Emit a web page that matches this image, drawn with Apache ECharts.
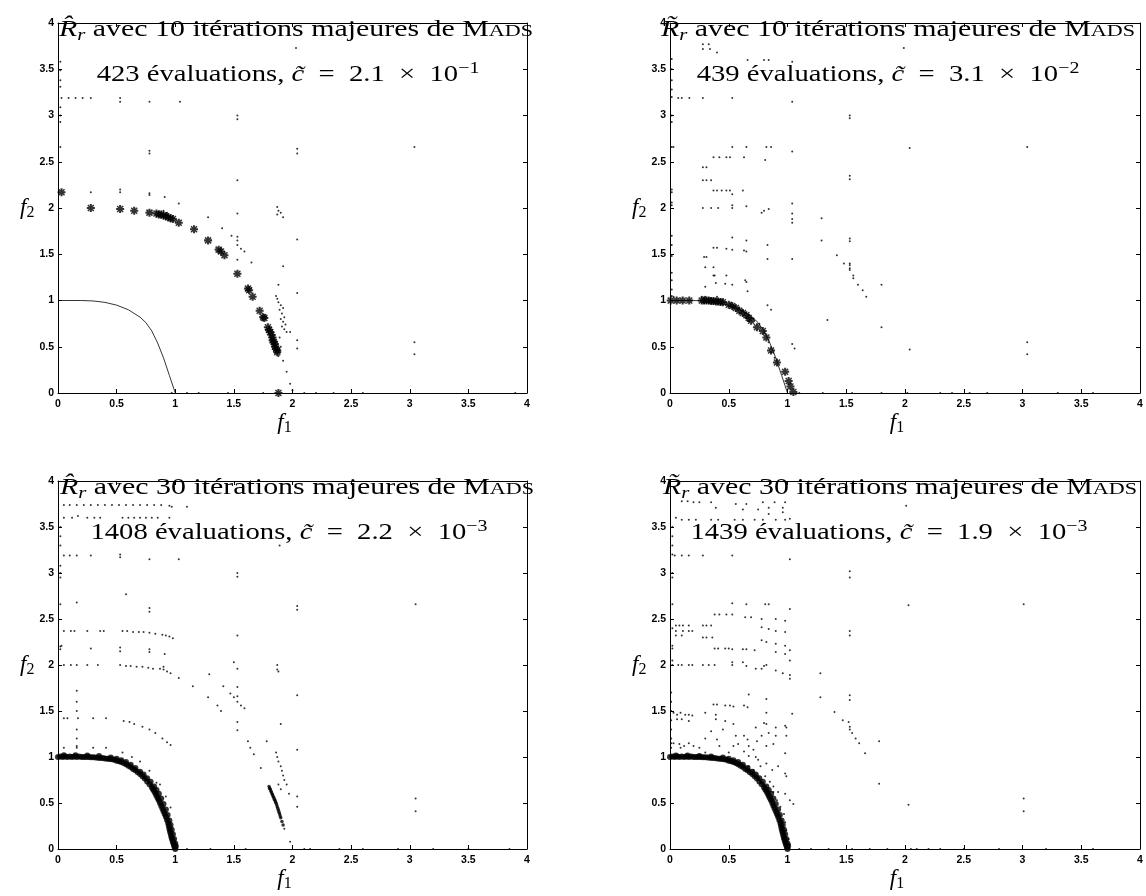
<!DOCTYPE html>
<html>
<head>
<meta charset="utf-8">
<script src="https://cdn.jsdelivr.net/npm/echarts@6/dist/echarts.min.js"></script>
<style>html,body{margin:0;padding:0;background:#fff}#c{width:1146px;height:896px}</style>
</head>
<body>
<div id="c"></div>
<script>
// ---------- tick labels ----------
var X_TICKS = [0, 0.5, 1, 1.5, 2, 2.5, 3, 3.5, 4];
var Y_TICKS = [0, 0.5, 1, 1.5, 2, 2.5, 3, 3.5, 4];

// ---------- titles ----------
var TITLE_ITER = [10, 10, 30, 30];
var TITLE_HAT = ['\u0302', '\u0303', '\u0302', '\u0303'];
var TITLE_EVALS = [423, 439, 1408, 1439];
var TITLE_C_MANT = ['2.1', '3.1', '2.2', '1.9'];
var TITLE_C_EXP = ['\u22121', '\u22122', '\u22123', '\u22123'];

// ---------- true Pareto front ----------
var FRONT = [[0,1],[0.2,1],[0.3,0.995],[0.4,0.98],[0.5,0.95],[0.6,0.9],[0.7,0.82],[0.75,0.76],[0.8,0.67],[0.85,0.54],[0.9,0.38],[0.95,0.19],[1,0]];

// ---------- panel 1 (top-left) ----------
var TL_STARS = [[0.03,2.17],[0.28,2.0],[0.53,1.99],[0.65,1.97],[0.78,1.95],
[0.84,1.94],[0.86,1.93],[0.88,1.93],[0.9,1.92],[0.92,1.91],[0.94,1.9],[0.96,1.89],[0.98,1.88],
[1.03,1.84],[1.16,1.77],[1.28,1.65],[1.37,1.55],[1.39,1.53],[1.42,1.49],[1.53,1.29],[1.62,1.13],[1.63,1.11],[1.66,1.04],[1.72,0.89],[1.75,0.82],[1.76,0.81],
[1.79,0.71],[1.8,0.68],[1.81,0.66],[1.82,0.63],[1.83,0.6],[1.83,0.57],[1.84,0.55],[1.85,0.53],[1.85,0.5],[1.86,0.48],[1.87,0.46],[1.87,0.44],[1.88,0.0]];
var TL_DOTS = [[0.02,3.58],[0.02,3.49],[0.02,3.38],[0.02,3.31],[0.02,3.09],[0.02,3.0],[0.02,2.93],[0.02,2.66],
[0.03,3.19],[0.09,3.19],[0.15,3.19],[0.21,3.19],[0.28,3.19],[0.53,3.19],[0.53,3.15],[0.78,3.15],[1.04,3.15],[1.53,3.0],[1.53,2.96],[2.03,3.73],
[0.78,2.62],[0.78,2.59],[0.28,2.17],[0.53,2.2],[0.53,2.17],[0.78,2.16],[0.78,2.14],[0.91,2.12],[1.03,2.05],
[0.9,1.97],[0.93,1.95],[1.28,1.9],[1.4,1.78],
[1.53,2.3],[1.53,1.94],[1.53,1.69],[1.53,1.65],[1.53,1.6],[1.53,1.44],[1.48,1.7],[1.56,1.56],[1.59,1.53],[1.65,1.41],
[1.87,2.01],[1.88,1.97],[1.9,1.95],[1.92,1.9],[1.87,1.93],[1.92,1.37],[1.88,1.17],
[1.86,1.05],[1.87,1.02],[1.88,0.98],[1.9,0.95],[1.92,0.92],[1.89,0.9],[1.91,0.86],[1.93,0.82],[1.9,0.8],[1.92,0.77],[1.94,0.74],[1.91,0.72],[1.93,0.69],[1.95,0.66],[1.98,0.66],
[1.89,0.6],[1.9,0.5],[1.88,0.4],[1.92,0.35],[1.95,0.23],[1.98,0.1],[2.0,0.03],
[2.04,2.64],[2.04,2.59],[2.04,1.66],[2.04,1.08],[2.04,0.57],[2.04,0.48],
[3.04,2.66],[3.04,0.55],[3.04,0.42],
[0.97,0],[1.1,0],[1.2,0],[1.45,0],[1.75,0],[2.1,0],[2.2,0],[2.35,0],[2.6,0],[3.9,0]];

// ---------- panel 2 (top-right) ----------
var TR_STARS = [[0.006,1.0],[0.057,1.0],[0.108,1.0],[0.164,1.0],
[0.27,1.0],[0.29,1.0],[0.31,1.0],[0.33,1.0],[0.35,0.995],[0.37,0.995],[0.39,0.99],[0.41,0.99],[0.43,0.985],[0.45,0.98],
[0.5,0.955],[0.53,0.94],[0.56,0.92],[0.59,0.89],[0.62,0.865],[0.65,0.84],[0.67,0.81],[0.69,0.78],
[0.74,0.71],[0.79,0.67],[0.82,0.6],[0.86,0.46],[0.91,0.33],[0.98,0.23],[1.01,0.13],[1.025,0.07],[1.05,0.01]];
var TR_DOTS = [[0.03,1.04],[0.27,1.04],[0.3,1.04],[0.4,1.04],[0.47,0.98],[0.54,0.95],[0.62,0.89],[0.71,0.8],[0.76,0.75],[0.8,0.65],[0.84,0.55],[0.86,0.44],[0.89,0.38],
[0.015,3.61],[0.015,3.5],[0.015,3.38],[0.015,3.28],[0.015,3.2],[0.015,3.0],[0.015,2.93],[0.015,2.66],[0.03,2.66],[0.015,2.2],[0.015,2.17],[0.015,2.06],[0.015,2.03],[0.015,1.7],[0.015,1.6],[0.015,1.48],[0.015,1.3],[0.015,1.22],[0.015,1.12],[0.015,1.05],
[0.28,3.77],[0.33,3.77],[0.28,3.72],[0.34,3.72],[0.4,3.68],
[0.66,3.6],[0.8,3.6],[0.84,3.6],[1.04,3.58],
[0.07,3.19],[0.1,3.19],[0.165,3.19],[0.28,3.19],[0.53,3.19],[1.04,3.15],
[1.53,3.0],[1.53,2.97],[1.53,2.35],[1.53,2.31],[1.53,1.67],[1.53,1.64],[1.53,1.4],[1.53,1.38],
[1.99,3.73],[2.04,2.65],[3.04,2.66],[3.04,0.55],[3.04,0.42],[2.04,0.47],
[0.53,2.66],[0.65,2.66],[0.82,2.66],[0.86,2.66],
[0.37,2.55],[0.42,2.55],[0.48,2.55],[0.51,2.55],[0.63,2.55],[0.81,2.52],[1.04,2.61],
[0.28,2.44],[0.31,2.44],[0.28,2.3],[0.31,2.3],[0.35,2.3],
[0.37,2.19],[0.4,2.19],[0.44,2.19],[0.48,2.19],[0.51,2.19],[0.62,2.19],[0.53,2.15],
[0.28,2.0],[0.35,2.0],[0.41,2.0],[0.53,2.0],[0.53,2.03],[0.65,2.02],[0.78,1.95],[0.8,1.97],[0.84,1.99],[1.04,2.05],
[1.04,1.94],[1.04,1.88],[1.04,1.84],[1.29,1.89],[1.29,1.65],[0.53,1.68],[0.65,1.65],
[0.37,1.57],[0.4,1.57],[0.48,1.56],[0.53,1.55],[0.63,1.54],[0.65,1.53],
[0.83,1.6],[0.83,1.45],[1.04,1.45],[0.29,1.47],[0.31,1.47],
[0.3,1.36],[0.37,1.36],[0.37,1.27],[0.38,1.27],[0.48,1.27],[0.64,1.22],[0.65,1.2],
[0.3,1.15],[0.39,1.19],[0.47,1.18],[0.53,1.17],[0.66,1.1],
[1.42,1.49],[1.48,1.4],[1.53,1.35],[1.53,1.33],[1.56,1.27],[1.56,1.24],[1.6,1.17],[1.64,1.11],[1.67,1.04],
[1.8,1.17],[1.8,0.71],[1.34,0.79],[0.83,0.95],[0.86,0.9],[1.04,0.53],[1.06,0.48],
[1.1,0],[1.3,0],[1.55,0],[1.8,0],[2.02,0],[2.3,0],[2.4,0],[2.55,0],[2.7,0],[3.3,0],[3.6,0]];

// ---------- panel 3 (bottom-left) ----------
var BL_BAND = [[0,1.0],[0.02,1.005],[0.04,1.0],[0.06,1.005],[0.08,1.0],[0.1,1.005],[0.12,1.0],[0.14,1.005],[0.16,1.0],[0.18,1.005],[0.2,1.0],[0.22,1.0],[0.24,1.0],[0.26,1.0],[0.28,0.998],[0.3,0.997],[0.32,0.995],[0.34,0.993],[0.36,0.99],[0.38,0.988],[0.4,0.985],[0.42,0.982],[0.44,0.978],
[0.05,1.02],[0.15,1.02],[0.25,1.015],[0.35,1.01],[0.45,0.995],
[0.46,0.975],[0.48,0.97],[0.5,0.96],[0.52,0.955],[0.54,0.945],[0.56,0.935],[0.58,0.92],[0.6,0.905],[0.62,0.89],[0.64,0.87],[0.66,0.855],[0.68,0.835],[0.7,0.815],[0.72,0.79],[0.74,0.765],[0.76,0.735],[0.78,0.705],[0.8,0.67],[0.81,0.65],[0.82,0.63],[0.83,0.605],[0.84,0.58],[0.85,0.555],[0.86,0.53],[0.87,0.5],[0.88,0.47],[0.89,0.44],[0.9,0.41],[0.91,0.38],[0.92,0.35],[0.93,0.315],[0.94,0.28],[0.945,0.25],[0.95,0.22],[0.955,0.195],[0.96,0.17],[0.965,0.145],[0.97,0.12],[0.975,0.1],[0.98,0.08],[0.985,0.06],[0.99,0.04],[0.995,0.02],[1.0,0.0],
[0.5,0.98],[0.54,0.965],[0.58,0.945],[0.62,0.915],[0.66,0.88],[0.7,0.84],[0.73,0.81],[0.76,0.77],[0.79,0.73],[0.82,0.68],[0.84,0.64],[0.86,0.6],[0.88,0.55],[0.9,0.49],[0.92,0.43],[0.935,0.37],[0.95,0.31],[0.96,0.26],[0.97,0.21],[0.98,0.16],[0.99,0.11],[1.0,0.06],[1.005,0.03]];
var BL_RIGHT_BAND = [[1.8,0.68],[1.805,0.66],[1.81,0.65],[1.815,0.63],[1.82,0.62],[1.825,0.6],[1.83,0.59],[1.835,0.57],[1.84,0.56],[1.845,0.54],[1.85,0.53],[1.855,0.51],[1.86,0.5],[1.865,0.48],[1.87,0.46],[1.875,0.44],[1.88,0.42],[1.885,0.4],[1.89,0.38],[1.895,0.36],[1.9,0.34],[1.91,0.3],[1.92,0.26]];
var BL_DOTS = [[0.05,3.74],[0.1,3.74],[0.16,3.74],[0.22,3.74],[0.28,3.74],[0.34,3.74],[0.4,3.74],[0.46,3.74],[0.52,3.74],[0.58,3.74],[0.64,3.74],[0.7,3.74],[0.76,3.74],[0.82,3.74],[0.88,3.74],[0.95,3.73],[0.97,3.72],[1.1,3.72],
[0.05,3.6],[0.12,3.6],[0.17,3.62],[0.25,3.6],[0.31,3.6],[0.36,3.6],[0.55,3.6],[0.6,3.6],[0.65,3.6],[0.7,3.6],[0.75,3.6],[0.8,3.6],[0.85,3.6],[0.95,3.6],
[0.02,3.5],[0.02,3.4],[0.02,3.3],[0.02,3.08],[0.02,3.0],[0.02,2.95],[0.02,2.66],[0.02,2.2],[0.02,2.17],
[0.05,3.19],[0.1,3.19],[0.16,3.19],[0.28,3.19],[0.53,3.2],[0.53,3.17],[0.78,3.15],[1.03,3.15],[1.89,3.3],
[0.58,2.77],[0.16,2.68],[0.78,2.62],[0.78,2.58],[1.53,3.0],[1.53,2.96],[2.04,2.64],[2.04,2.6],[3.05,2.66],
[0.05,2.37],[0.11,2.37],[0.14,2.37],[0.25,2.37],[0.36,2.37],[0.39,2.37],[0.55,2.37],[0.59,2.37],[0.64,2.36],[0.69,2.36],[0.73,2.36],[0.78,2.35],[0.83,2.34],[0.89,2.33],[0.92,2.32],[0.95,2.31],[0.98,2.29],
[0.03,2.21],[0.28,2.18],[0.53,2.19],[0.53,2.15],[0.78,2.17],[0.78,2.14],[0.91,2.12],
[0.05,2.0],[0.11,2.0],[0.16,2.0],[0.25,2.0],[0.34,2.0],[0.53,2.0],[0.58,1.99],[0.62,1.99],[0.67,1.98],[0.72,1.98],[0.77,1.97],[0.81,1.96],[0.87,1.96],[0.9,1.95],[0.93,1.93],[0.96,1.91],[1.03,1.86],[0.9,1.98],
[1.15,1.77],[1.29,1.9],[1.28,1.65],[1.41,1.77],[1.36,1.56],[1.39,1.5],[1.47,1.69],[1.5,1.65],[1.5,2.03],[1.53,2.32],[1.53,1.96],[1.53,1.76],[1.53,1.66],[1.53,1.6],[1.53,1.38],[1.53,1.29],[1.56,1.56],[1.59,1.53],
[0.05,1.42],[0.08,1.42],[0.17,1.42],[0.3,1.42],[0.41,1.42],[0.56,1.39],[0.61,1.38],[0.65,1.36],[0.72,1.33],[0.78,1.3],[0.83,1.26],[0.89,1.2],[0.93,1.16],[0.96,1.13],
[0.16,1.72],[0.16,1.6],[0.16,1.5],[0.16,1.3],[0.16,1.2],[0.16,1.12],
[0.05,1.1],[0.16,1.1],[0.3,1.1],[0.41,1.1],[0.55,1.05],[0.63,1.0],[0.7,0.95],[0.78,0.85],[0.84,0.72],[0.87,0.7],[0.92,0.57],[0.96,0.45],
[1.87,2.0],[1.87,1.95],[1.88,1.93],[1.78,1.17],[1.9,1.36],[2.04,1.67],[2.04,1.08],[2.04,0.57],[2.04,0.46],
[1.62,1.17],[1.64,1.1],[1.67,1.03],[1.73,0.88],[1.98,0.08],[3.05,0.55],[3.05,0.41],[1.93,0.22],
[1.86,1.05],[1.87,1.0],[1.88,0.95],[1.9,0.9],[1.91,0.85],[1.92,0.8],[1.93,0.75],[1.88,0.7],[1.9,0.65],[1.95,0.7],[1.97,0.6],
[1.1,0],[1.3,0],[1.6,0],[2.1,0],[2.15,0],[2.4,0],[2.6,0],[2.9,0],[3.2,0],[3.5,0],[3.85,0]];

// ---------- panel 4 (bottom-right) ----------
var BR_BAND = [[0,1.0],[0.02,1.005],[0.04,1.0],[0.06,1.005],[0.08,1.0],[0.1,1.005],[0.12,1.0],[0.14,1.005],[0.16,1.0],[0.18,1.005],[0.2,1.0],[0.22,1.0],[0.24,1.0],[0.26,1.0],[0.28,0.998],[0.3,0.997],[0.32,0.995],[0.34,0.993],[0.36,0.99],[0.38,0.988],[0.4,0.985],[0.42,0.982],[0.44,0.978],
[0.05,1.015],[0.15,1.015],[0.25,1.01],[0.35,1.005],[0.45,0.995],
[0.46,0.975],[0.48,0.97],[0.5,0.96],[0.52,0.955],[0.54,0.945],[0.56,0.935],[0.58,0.92],[0.6,0.905],[0.62,0.89],[0.64,0.87],[0.66,0.855],[0.68,0.835],[0.7,0.815],[0.72,0.79],[0.74,0.765],[0.76,0.735],[0.78,0.705],[0.8,0.67],[0.81,0.65],[0.82,0.63],[0.83,0.605],[0.84,0.58],[0.85,0.555],[0.86,0.53],[0.87,0.5],[0.88,0.47],[0.89,0.44],[0.9,0.41],[0.91,0.38],[0.92,0.35],[0.93,0.315],[0.94,0.28],[0.945,0.25],[0.95,0.22],[0.955,0.195],[0.96,0.17],[0.965,0.145],[0.97,0.12],[0.975,0.1],[0.98,0.08],[0.985,0.06],[0.99,0.04],[0.995,0.02],[1.0,0.0],
[0.5,0.98],[0.54,0.965],[0.58,0.945],[0.62,0.915],[0.66,0.88],[0.7,0.84],[0.73,0.81],[0.76,0.77],[0.79,0.73],[0.82,0.68],[0.84,0.64],[0.86,0.6],[0.88,0.55],[0.9,0.49],[0.92,0.43],[0.935,0.37],[0.95,0.31],[0.96,0.26],[0.97,0.21],[0.98,0.16],[0.99,0.11],[1.0,0.06],[1.005,0.03]];
var BR_DOTS = [[0.05,3.6],[0.1,3.58],[0.16,3.58],[0.22,3.58],[0.35,3.58],[0.41,3.58],[0.55,3.58],[0.62,3.58],[0.72,3.58],[0.79,3.58],[0.9,3.58],[0.98,3.58],[1.02,3.59],
[0.35,3.77],[0.39,3.71],[0.56,3.75],[0.62,3.69],[0.65,3.75],[0.75,3.69],[0.79,3.77],[0.84,3.71],[0.89,3.77],[0.96,3.71],[0.98,3.77],[0.96,3.66],[0.84,3.64],[0.1,3.78],[0.15,3.78],[0.2,3.77],[0.25,3.77],
[0.02,3.5],[0.02,3.4],[0.02,3.3],[0.02,3.2],[0.02,3.0],[0.02,2.95],[0.02,2.66],[0.02,2.4],[0.02,2.21],[0.02,2.18],[0.02,2.05],[0.01,1.7],[0.01,1.6],[0.01,1.5],[0.01,1.4],[0.01,1.3],[0.01,1.2],[0.01,1.15],[0.01,1.1],
[0.04,3.19],[0.1,3.19],[0.16,3.19],[0.28,3.19],[0.53,3.19],[1.02,3.15],
[1.53,3.02],[1.53,2.95],[2.01,3.73],[2.03,2.65],[3.01,2.66],[3.01,0.55],[3.01,0.41],[2.03,0.48],
[0.53,2.67],[0.65,2.66],[0.81,2.66],[0.84,2.66],[1.02,2.61],
[0.38,2.55],[0.42,2.55],[0.48,2.55],[0.53,2.55],[0.64,2.52],[0.69,2.52],[0.78,2.5],[0.9,2.5],[0.98,2.48],
[0.05,2.43],[0.08,2.43],[0.11,2.43],[0.16,2.43],[0.05,2.37],[0.11,2.37],[0.16,2.37],[0.19,2.37],[0.28,2.43],[0.31,2.43],[0.35,2.43],[0.78,2.41],[0.84,2.39],[0.9,2.37],[0.98,2.36],
[0.05,2.32],[0.1,2.32],[0.28,2.3],[0.31,2.3],[0.36,2.3],
[0.38,2.18],[0.41,2.18],[0.47,2.18],[0.5,2.18],[0.53,2.17],[0.62,2.17],[0.65,2.17],[0.72,2.16],[0.78,2.27],[0.82,2.25],[0.9,2.23],[0.98,2.21],[0.9,2.14],[0.98,2.12],[1.02,2.16],
[0.02,2.0],[0.07,2.0],[0.1,2.0],[0.16,2.0],[0.19,2.0],[0.28,2.0],[0.33,2.0],[0.38,2.0],[0.53,2.0],[0.53,2.03],[0.62,2.03],[0.65,1.99],[0.73,1.96],[0.78,1.96],[0.82,2.0],[0.9,1.94],[0.96,1.91],[1.02,1.89],[1.02,1.85],[1.02,2.05],[0.8,1.99],
[1.28,1.91],[1.28,1.65],[1.53,2.37],[1.53,2.32],[1.53,1.67],[1.53,1.62],
[1.4,1.49],[1.47,1.4],[1.52,1.38],[1.53,1.33],[1.53,1.3],[1.55,1.26],[1.58,1.2],[1.61,1.15],[1.66,1.04],[1.78,1.17],[1.78,0.71],
[0.03,1.48],[0.06,1.46],[0.09,1.48],[0.13,1.46],[0.16,1.46],[0.19,1.45],[0.06,1.41],[0.1,1.41],[0.16,1.39],
[0.03,1.15],[0.08,1.14],[0.12,1.12],[0.16,1.15],[0.2,1.12],[0.09,1.1],
[0.37,1.57],[0.4,1.57],[0.47,1.56],[0.51,1.56],[0.54,1.55],
[0.3,1.48],[0.39,1.46],[0.39,1.41],[0.47,1.39],[0.54,1.36],
[0.67,1.68],[0.63,1.56],[0.66,1.54],[0.82,1.63],[0.82,1.48],[0.8,1.37],[0.82,1.36],[0.9,1.32],[0.98,1.34],[0.99,1.32],[1.04,1.47],[0.99,1.23],[0.9,1.23],[0.84,1.26],[0.73,1.32],
[0.4,1.19],[0.42,1.12],[0.56,1.23],[0.54,1.12],[0.58,1.14],[0.63,1.23],[0.66,1.19],[0.67,1.12],[0.71,1.08],[0.74,1.17],[0.78,1.23],[0.82,1.12],[0.88,1.14],[0.98,1.04],[0.63,1.06],[0.67,1.01],[0.73,1.0],[0.75,0.97],[0.77,0.9],[0.82,0.93],[0.87,0.86],[0.92,0.9],[0.98,0.82],[0.99,0.79],[0.81,0.79],[0.85,0.73],[0.88,0.68],[0.92,0.62],[0.98,0.6],[1.02,0.53],[1.05,0.49],[0.88,0.62],[0.91,0.53],[0.94,0.46],[0.97,0.38],[0.98,0.29],[0.99,0.2],[1.01,0.11],[1.02,0.05],[0.92,0.38],[0.95,0.31],[0.87,0.53],[0.84,0.6],[0.8,0.68],[0.75,0.79],[0.71,0.86],[0.67,0.9],[0.61,0.93],
[0.25,1.1],[0.3,1.2],[0.35,1.28],[0.45,1.3],[0.5,1.05],[0.3,1.05],
[1.1,0],[1.2,0],[1.35,0],[1.55,0],[1.7,0],[1.85,0],[2.05,0],[2.1,0],[2.2,0],[2.3,0],[2.5,0],[2.8,0],[3.2,0],[3.6,0]];

// ---------- build ----------
var PANELS = [
  {grid:{left:58, top:23, width:469, height:370}, stars:TL_STARS, band:null, band2:null, dots:TL_DOTS, t1x:296, t2x:288},
  {grid:{left:670, top:23, width:470, height:370}, stars:TR_STARS, band:null, band2:null, dots:TR_DOTS, t1x:898, t2x:888},
  {grid:{left:58, top:481, width:469, height:368}, stars:null, band:BL_BAND, band2:BL_RIGHT_BAND, dots:BL_DOTS, t1x:297, t2x:289},
  {grid:{left:670, top:481, width:470, height:368}, stars:null, band:BR_BAND, band2:null, dots:BR_DOTS, t1x:900, t2x:889}
];
var STAR = 'path://M0,3.7 L10,3.7 L10,6.3 L0,6.3 Z M3.7,0 L6.3,0 L6.3,10 L3.7,10 Z M1.9,0.6 L9.4,8.1 L8.1,9.4 L0.6,1.9 Z M8.1,0.6 L9.4,1.9 L1.9,9.4 L0.6,8.1 Z';

var tickFont = {color:'#000', fontSize:10.5, fontFamily:'Liberation Sans, Arial, sans-serif', fontWeight:'bold'};
var nameRich = {
  f:{fontFamily:'Liberation Serif', fontStyle:'italic', fontSize:23, lineHeight:26, color:'#000'},
  s:{fontFamily:'Liberation Serif', fontSize:16, lineHeight:16, verticalAlign:'bottom', color:'#000'}
};
var tt = {
  t:{fontFamily:'Liberation Serif', fontSize:23, lineHeight:28, color:'#000'},
  R:{fontFamily:'Liberation Serif', fontStyle:'italic', fontSize:23, lineHeight:28, color:'#000'},
  sub:{fontFamily:'Liberation Serif', fontStyle:'italic', fontSize:16, lineHeight:16, verticalAlign:'bottom', color:'#000'},
  sc:{fontFamily:'Liberation Serif', fontSize:17, lineHeight:28, color:'#000', padding:[3,0,0,0]},
  i:{fontFamily:'Liberation Serif', fontStyle:'italic', fontSize:23, lineHeight:28, color:'#000'},
  sup:{fontFamily:'Liberation Serif', fontSize:16, lineHeight:16, verticalAlign:'top', color:'#000'}
};
var grids = [], xAxes = [], yAxes = [], series = [], graphics = [];
PANELS.forEach(function(p, i){
  grids.push(p.grid);
  var base = {gridIndex:i, type:'value', min:X_TICKS[0], max:X_TICKS[X_TICKS.length-1], interval:X_TICKS[1]-X_TICKS[0],
    splitLine:{show:false},
    axisLine:{show:true, onZero:false, lineStyle:{color:'#000', width:1}},
    axisTick:{show:true, inside:true, length:4, lineStyle:{color:'#000', width:1}}};
  xAxes.push(Object.assign({}, base, {position:'bottom',
    axisLabel:Object.assign({margin:6}, tickFont),
    name:'{f|f}{s|1}', nameLocation:'middle', nameGap:17, nameTextStyle:{rich:nameRich, padding:[0,16,0,0]}}));
  xAxes.push(Object.assign({}, base, {position:'top', axisLabel:{show:false}}));
  var ybase = Object.assign({}, base, {min:Y_TICKS[0], max:Y_TICKS[Y_TICKS.length-1], interval:Y_TICKS[1]-Y_TICKS[0]});
  yAxes.push(Object.assign({}, ybase, {position:'left',
    axisLabel:Object.assign({margin:4}, tickFont),
    name:'{f|f}{s|2}', nameLocation:'middle', nameRotate:0, nameGap:23, nameTextStyle:{rich:nameRich}}));
  yAxes.push(Object.assign({}, ybase, {position:'right', axisLabel:{show:false}}));
  var xi = 2*i, yi = 2*i;
  series.push({type:'line', xAxisIndex:xi, yAxisIndex:yi, data:FRONT, showSymbol:false, symbol:'none',
    lineStyle:{color:'#000', width:0.8}, silent:true, z:2});
  series.push({type:'scatter', xAxisIndex:xi, yAxisIndex:yi, data:p.dots, symbol:'circle', symbolSize:2,
    itemStyle:{color:'#000'}, silent:true, z:3});
  if (p.stars) series.push({type:'scatter', xAxisIndex:xi, yAxisIndex:yi, data:p.stars, symbol:STAR, symbolSize:8,
    itemStyle:{color:'#000'}, silent:true, z:4});
  if (p.band) series.push({type:'scatter', xAxisIndex:xi, yAxisIndex:yi, data:p.band, symbol:'circle', symbolSize:6,
    itemStyle:{color:'#000'}, silent:true, z:4});
  if (p.band2) series.push({type:'scatter', xAxisIndex:xi, yAxisIndex:yi, data:p.band2, symbol:'circle', symbolSize:3.5,
    itemStyle:{color:'#000'}, silent:true, z:4});

  graphics.push({type:'text', x:p.t1x, y:p.grid.top-7, scaleX:1.3, z:10, style:{
    text:'{R|R' + TITLE_HAT[i] + '}{sub|r}{t| avec ' + TITLE_ITER[i] + ' itérations majeures de M}{sc|ADS}',
    rich:tt, align:'center', verticalAlign:'top'}});
  graphics.push({type:'text', x:p.t2x, y:p.grid.top+38, scaleX:1.245, z:10, style:{
    text:'{t|' + TITLE_EVALS[i] + ' évaluations, }{i|c\u0303}{t|\u2002=\u2002' + TITLE_C_MANT[i] + '\u2002×\u200210}{sup|' + TITLE_C_EXP[i] + '}',
    rich:tt, align:'center', verticalAlign:'top'}});
});

var chart = echarts.init(document.getElementById('c'), null, {renderer:'canvas'});
chart.setOption({
  animation:false,
  backgroundColor:'#fff',
  grid:grids, xAxis:xAxes, yAxis:yAxes, series:series, graphic:graphics
});
</script>
</body>
</html>
